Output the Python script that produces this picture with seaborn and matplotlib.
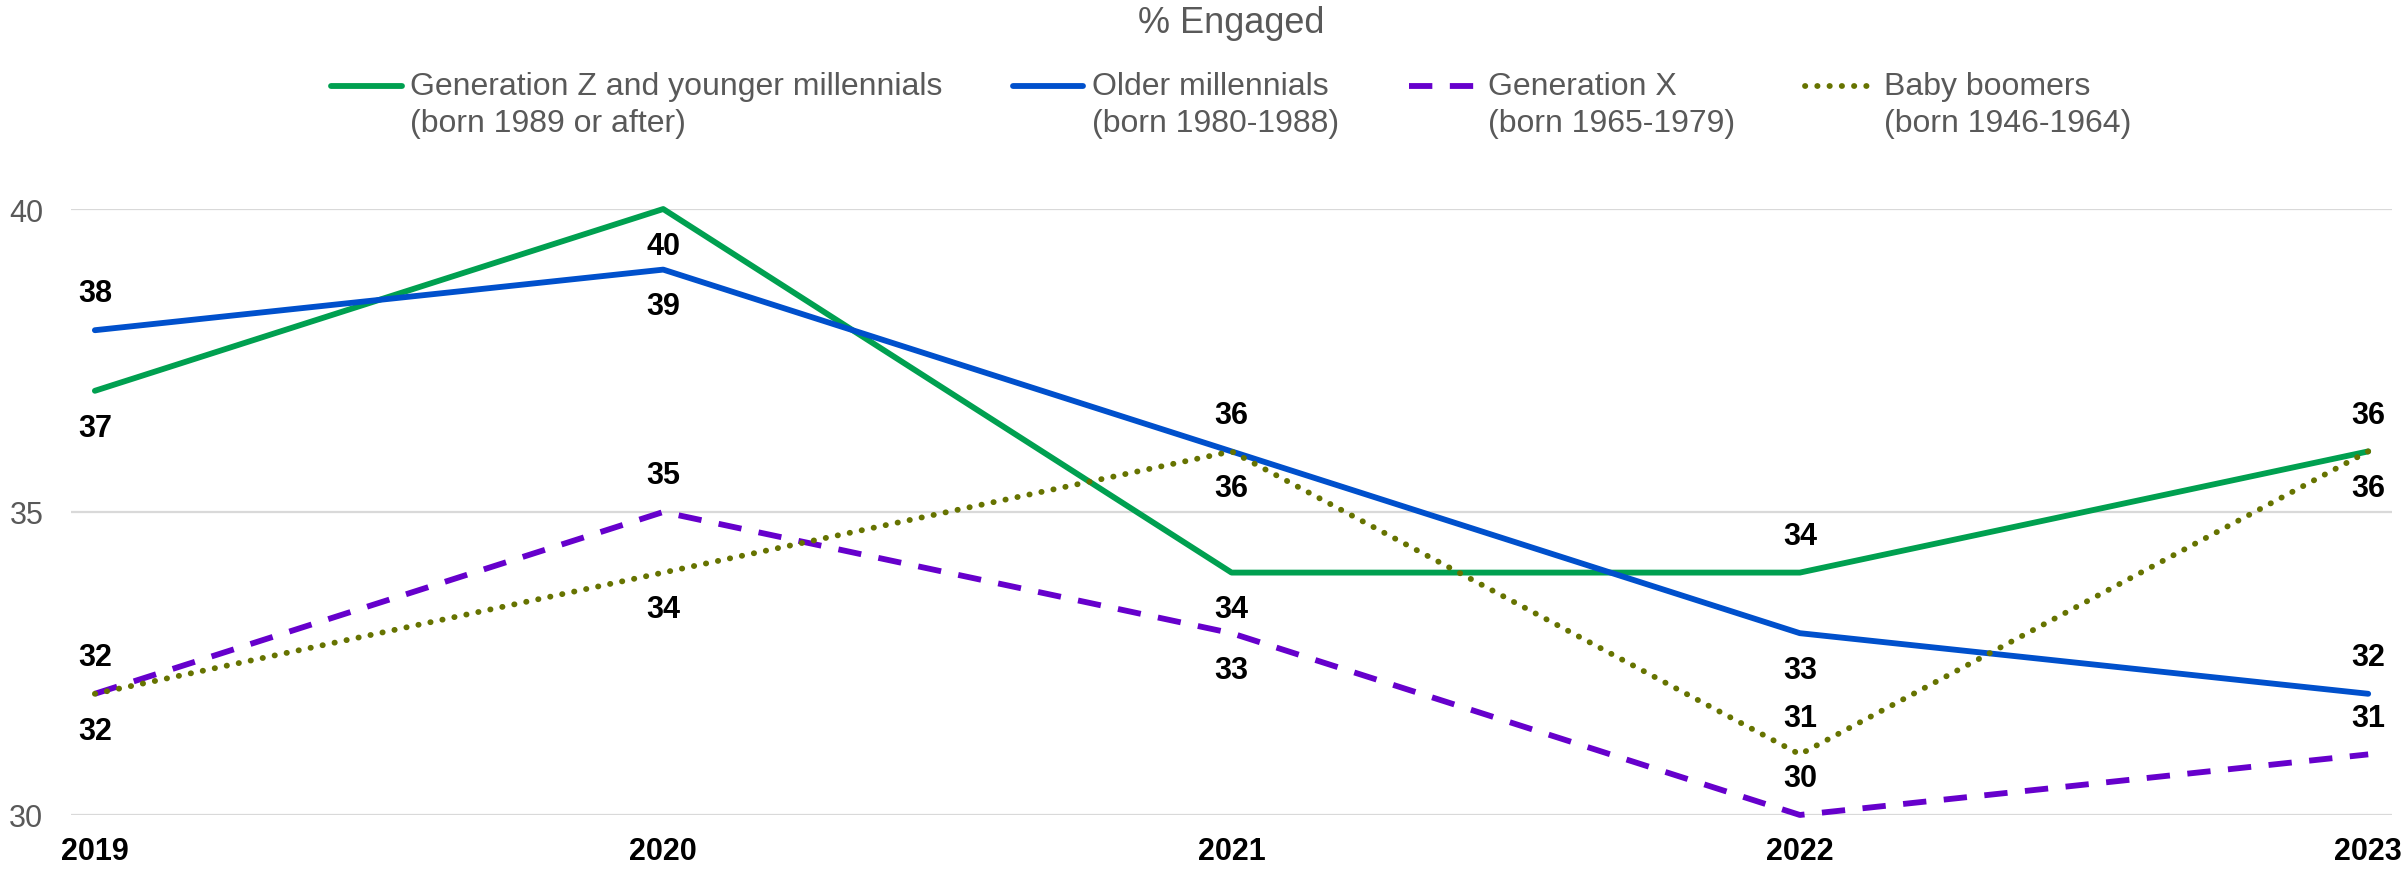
import numpy as np
import pandas as pd
import matplotlib
matplotlib.use("Agg")
import matplotlib.pyplot as plt
import seaborn as sns

# ---------------- data ----------------
years = [2019, 2020, 2021, 2022, 2023]
year_labels = ["2019", "2020", "2021", "2022", "2023"]
series_labels = [
    "Generation Z and younger millennials\n(born 1989 or after)",
    "Older millennials\n(born 1980-1988)",
    "Generation X\n(born 1965-1979)",
    "Baby boomers\n(born 1946-1964)",
]
gen_z = [37, 40, 34, 34, 36]
older_millennials = [38, 39, 36, 33, 32]
gen_x = [32, 35, 33, 30, 31]
baby_boomers = [32, 34, 36, 31, 36]
y_ticks = [30, 35, 40]
chart_title = "% Engaged"

# ---------------- style ----------------
colors = ["#00A050", "#0050CC", "#6600CC", "#667300"]
line_styles = ["-", "-", (0, (4.0, 3.0)), (0, (0.05, 2.05))]
line_widths = [4.2, 4.2, 4.2, 4.2]
cap_styles = ["round", "round", "butt", "round"]
# +1 label above the point, -1 below
label_side = [
    [-1, -1, -1, 1, 1],
    [1, -1, 1, -1, 1],
    [1, 1, -1, 1, 1],
    [-1, -1, -1, 1, -1],
]

sns.set_theme(style="white")
plt.rcParams["font.family"] = ["Liberation Sans", "DejaVu Sans"]

fig = plt.figure(figsize=(24.07, 8.70), dpi=100)
ax = fig.add_axes([0.0295, 0.0621, 0.9643, 0.6965])

all_series = [gen_z, older_millennials, gen_x, baby_boomers]
handles = []
for i, vals in enumerate(all_series):
    df = pd.DataFrame({"year": years, "value": vals})
    sns.lineplot(data=df, x="year", y="value", ax=ax, color=colors[i],
                 linewidth=line_widths[i], linestyle=line_styles[i],
                 legend=False, zorder=3 + i)
    ln = ax.get_lines()[-1]
    ln.set_clip_on(False)
    ln.set_solid_capstyle(cap_styles[i])
    ln.set_dash_capstyle(cap_styles[i])
    handles.append(ln)
    for j, (x, v) in enumerate(zip(years, vals)):
        ax.annotate(str(v), (x, v), xytext=(0, 26.5 * label_side[i][j]),
                    textcoords="offset points", ha="center", va="center",
                    fontsize=22, fontweight="bold", color="black", zorder=10)

ax.set_xlim(years[0] - 0.042, years[-1] + 0.042)
ax.set_ylim(y_ticks[0], y_ticks[-1])
ax.set_xticks(years)
ax.set_xticklabels(year_labels, fontsize=22, fontweight="bold", color="black")
ax.set_yticks(y_ticks)
ax.set_yticklabels([str(t) for t in y_ticks], fontsize=22, color="#595959")
ax.tick_params(axis="y", length=0, pad=20)
ax.tick_params(axis="x", length=0, pad=15)
ax.set_xlabel("")
ax.set_ylabel("")
ax.yaxis.grid(True, color="#d9d9d9", linewidth=1.6)
ax.xaxis.grid(False)
ax.set_axisbelow(True)
for s in ax.spines.values():
    s.set_visible(False)

cx = 0.0295 + 0.9643 / 2
fig.text(cx, 0.962, chart_title, ha="center", va="baseline", fontsize=26, color="#595959")

leg = fig.legend(handles=handles, labels=series_labels, loc="center",
                 bbox_to_anchor=(cx, 0.8785), ncol=4, frameon=False,
                 fontsize=23, handlelength=2.2, handletextpad=0.27,
                 columnspacing=2.2, borderpad=0, borderaxespad=0)
for t in leg.get_texts():
    t.set_color("#595959")
    t.set_linespacing(1.32)

# align legend handles with the first line of each label
fig.canvas.draw()
renderer = fig.canvas.get_renderer()
probe = fig.text(0, 0, "Ag", fontsize=23)
h1 = probe.get_window_extent(renderer).height
probe.remove()
for t, h in zip(leg.get_texts(), leg.legend_handles):
    bb = t.get_window_extent(renderer)
    target = bb.y1 - h1 / 2
    hb = h.get_window_extent(renderer)
    cur = (hb.y0 + hb.y1) / 2
    dy_pt = (target - cur) * 72.0 / fig.dpi
    h.set_ydata(np.asarray(h.get_ydata(), dtype=float) + dy_pt)

fig.savefig("out.png", dpi=100)
